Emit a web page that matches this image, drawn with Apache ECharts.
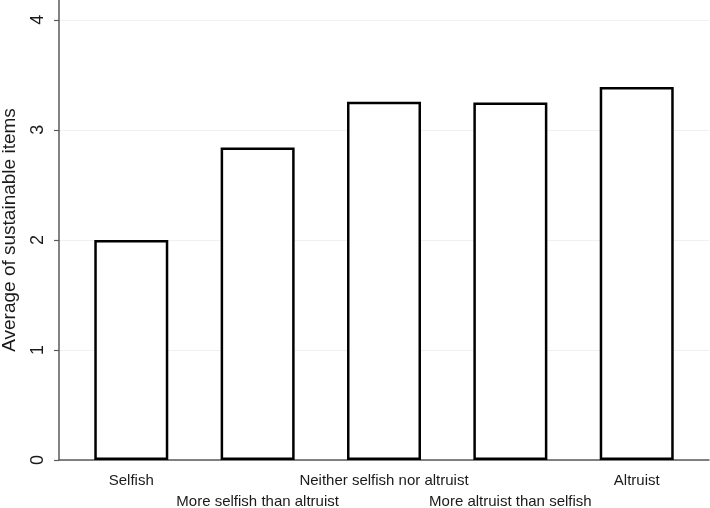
<!DOCTYPE html>
<html>
<head>
<meta charset="utf-8">
<script src="https://cdn.jsdelivr.net/npm/echarts@6/dist/echarts.min.js"></script>
<style>html,body{margin:0;padding:0;background:#fff;}#c{width:710px;height:508px;}</style>
</head>
<body>
<div id="c"></div>
<script>
const categories = ["Selfish", "More selfish than altruist", "Neither selfish nor altruist", "More altruist than selfish", "Altruist"];
const values = [2.0, 2.84, 3.255, 3.248, 3.39];
const yTicks = [0, 1, 2, 3, 4];
const yTitle = "Average of sustainable items";

const chart = echarts.init(document.getElementById('c'), null, {renderer: 'canvas'});
const font = "'Liberation Sans', Arial, sans-serif";
chart.setOption({
  animation: false,
  backgroundColor: '#ffffff',
  grid: {left: 59, right: 1, top: 0, bottom: 48, containLabel: false, outerBoundsMode: 'none'},
  xAxis: {
    type: 'value',
    min: -0.572, max: 4.572,
    axisLine: {show: true, onZero: false, lineStyle: {color: '#5a5a5a', width: 1.5}},
    axisTick: {show: false},
    splitLine: {show: false},
    axisLabel: {
      customValues: categories.map((c, i) => i),
      margin: 10,
      fontFamily: font, fontSize: 15, color: '#1a1a1a', lineHeight: 21,
      formatter: v => { const i = Math.round(v); return i % 2 === 1 ? '\n' + categories[i] : categories[i]; }
    }
  },
  yAxis: {
    type: 'value',
    min: 0, max: 4.18,
    name: yTitle,
    nameLocation: 'middle',
    nameGap: 40,
    nameTextStyle: {fontFamily: font, fontSize: 19, color: '#1a1a1a'},
    axisLine: {show: true, onZero: false, lineStyle: {color: '#5a5a5a', width: 1.5}},
    axisTick: {show: true, length: 5, customValues: yTicks, lineStyle: {color: '#5a5a5a', width: 1.2}},
    axisLabel: {customValues: yTicks, rotate: 90, margin: 12, fontFamily: font, fontSize: 18, color: '#1a1a1a'},
    splitLine: {show: true, lineStyle: {color: '#eaf2f3', width: 1}}
  },
  series: [{
    type: 'bar',
    data: values.map((v, i) => [i, v]),
    barWidth: 74,
    itemStyle: {color: '#ffffff', borderColor: '#000000', borderWidth: 2.5},
    emphasis: {disabled: true}
  }]
});
</script>
</body>
</html>
